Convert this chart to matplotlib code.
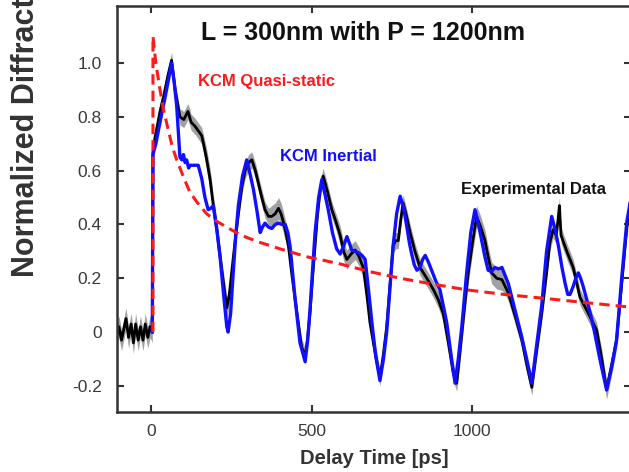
import numpy as np
import matplotlib
matplotlib.use("Agg")
import matplotlib.pyplot as plt

plt.rcParams['font.family'] = ['Liberation Sans', 'DejaVu Sans']

# experimental data (delay in ps, normalized intensity, error half-width)
exp_t = [-106, -100, -92, -85, -78, -70, -62, -55, -48, -40, -33, -25, -18, -10, -3, 4,
         6, 12, 20, 28, 40, 52, 64, 75, 90, 102, 115, 125, 137, 158, 172, 184, 194, 205,
         215, 226, 236, 244, 251, 262, 272, 283, 293, 304, 314, 325, 335, 345, 355, 366,
         376, 387, 397, 405, 412, 420, 428, 438, 449, 459, 469, 480, 488, 495, 503, 511,
         518, 526, 536, 550, 563, 576, 589, 600, 610, 623, 636, 648, 661, 672, 682, 697,
         713, 724, 734, 744, 754, 762, 770, 778, 785, 796, 807, 822, 838, 859, 880, 895,
         910, 926, 941, 952, 960, 968, 978, 988, 1001, 1014, 1027, 1040, 1050, 1061, 1077,
         1093, 1103, 1113, 1134, 1155, 1170, 1186, 1201, 1217, 1232, 1242, 1252, 1262, 1268,
         1272, 1277, 1295, 1315, 1336, 1362, 1388, 1404, 1419, 1435, 1450, 1466, 1482, 1495]
exp_y = [-0.01, 0.02, -0.03, 0.01, 0.05, -0.02, 0.03, -0.04, 0.03, -0.03, 0.02, -0.03,
         0.03, -0.02, 0.02, 0.0,
         0.67, 0.72, 0.77, 0.82, 0.88, 0.95, 1.01, 0.90, 0.80, 0.79, 0.82, 0.78, 0.765,
         0.73, 0.65, 0.567, 0.47, 0.38,
         0.28, 0.18, 0.09, 0.14, 0.22, 0.34, 0.44, 0.54, 0.60, 0.63, 0.64, 0.60, 0.55,
         0.50, 0.455, 0.43,
         0.43, 0.44, 0.46, 0.44, 0.41, 0.37, 0.32, 0.22, 0.12, 0.03, -0.055, -0.09,
         -0.02, 0.07, 0.20, 0.32,
         0.43, 0.52, 0.58, 0.52, 0.455, 0.41, 0.36, 0.30, 0.27, 0.29, 0.305, 0.28, 0.24,
         0.14, 0.035, -0.07,
         -0.17, -0.08, 0.02, 0.17, 0.32, 0.34, 0.34, 0.42, 0.48, 0.43, 0.37, 0.30, 0.24,
         0.20, 0.157, 0.12,
         0.07, -0.04, -0.15, -0.19, -0.10, -0.005, 0.11, 0.22, 0.33, 0.43, 0.39, 0.34,
         0.28, 0.22, 0.20,
         0.195, 0.17, 0.145, 0.06, -0.03, -0.12, -0.205, -0.07, 0.07, 0.22, 0.33, 0.38,
         0.36, 0.42,
         0.47, 0.36, 0.30, 0.24, 0.13, 0.07, 0.007, -0.10, -0.215, -0.12, -0.03, 0.18,
         0.39, 0.50]
exp_err = [0.04] * 16 + [0.03] * 14 + [0.04] * 8 + [0.03] * 12 + [0.04] * 6 \
    + [0.03] * 16 + [0.035] * 10 + [0.03] * 20 + [0.04] * 12 + [0.03] * 20 \
    + [0.035] * 7

# KCM inertial model
inr_t = [4, 6, 15, 28, 45, 64, 72, 80, 90, 96, 101, 106, 111, 117, 122, 135, 147, 158,
         168, 178, 186, 194, 205, 215, 226, 236, 240, 248, 256, 264, 272, 285, 298, 308,
         319, 330, 340, 347, 355, 366, 376, 387, 397, 408, 418, 426, 433, 441, 449, 464,
         480, 488, 495, 503, 511, 522, 532, 542, 552, 565, 578, 589, 600, 610, 618, 625,
         636, 646, 657, 667, 678, 688, 700, 713, 724, 734, 744, 754, 765, 776, 787, 797,
         805, 812, 820, 828, 838, 846, 854, 864, 874, 887, 900, 910, 921, 934, 947, 957,
         968, 983, 996, 1009, 1020, 1030, 1040, 1050, 1060, 1071, 1082, 1093, 1103, 1113,
         1134, 1155, 1170, 1186, 1201, 1217, 1232, 1248, 1259, 1269, 1280, 1290, 1298,
         1305, 1315, 1323, 1331, 1338, 1346, 1362, 1378, 1398, 1419, 1435, 1450, 1466,
         1482, 1495]
inr_y = [0.0, 0.66, 0.70, 0.78, 0.88, 1.0, 0.93, 0.84, 0.65, 0.64, 0.66, 0.63, 0.64, 0.61,
         0.62, 0.62, 0.62, 0.57,
         0.50, 0.455, 0.46, 0.47, 0.38, 0.28, 0.14, 0.02, 0.0, 0.07, 0.22, 0.36, 0.47,
         0.58, 0.64, 0.59,
         0.53, 0.45, 0.37, 0.39, 0.405, 0.39, 0.385, 0.40, 0.405, 0.40, 0.40, 0.37, 0.32,
         0.22, 0.12, -0.04,
         -0.11, -0.03, 0.08, 0.23, 0.37, 0.50, 0.567, 0.51, 0.455, 0.37, 0.31, 0.29,
         0.32, 0.355, 0.33, 0.305,
         0.30, 0.295, 0.285, 0.27, 0.15, 0.035, -0.09, -0.18, -0.10, 0.0, 0.16, 0.32,
         0.44, 0.505, 0.46, 0.39,
         0.33, 0.29, 0.25, 0.23, 0.24, 0.27, 0.285, 0.26, 0.23, 0.19, 0.157, 0.10, 0.035,
         -0.08, -0.19, -0.10,
         0.02, 0.22, 0.37, 0.455, 0.40, 0.34, 0.28, 0.23, 0.225, 0.24, 0.235, 0.24, 0.21,
         0.18,
         0.08, -0.02, -0.10, -0.19, -0.05, 0.10, 0.30, 0.43, 0.38, 0.32, 0.24, 0.18, 0.14,
         0.14, 0.17, 0.20, 0.22, 0.20, 0.17, 0.10, 0.02, -0.10, -0.215, -0.13, -0.03, 0.20,
         0.41, 0.50]

# KCM quasi-static model
qs_t = [6, 6, 15, 28, 40, 54, 66, 80, 100, 121, 145, 173, 200, 236, 280, 335, 400, 485,
        583, 680, 776, 880, 983, 1100, 1212, 1350, 1482, 1500]
qs_y = [0.0, 1.10, 1.00, 0.90, 0.82, 0.75, 0.69, 0.64, 0.58, 0.52, 0.48, 0.44, 0.415,
        0.39, 0.36, 0.335, 0.31, 0.28, 0.255, 0.225, 0.20, 0.178, 0.157, 0.14, 0.127,
        0.11, 0.094, 0.092]

yticks = [-0.2, 0, 0.2, 0.4, 0.6, 0.8, 1.0]
ytick_labels = ['-0.2', '0', '0.2', '0.4', '0.6', '0.8', '1.0']
xticks = [0, 500, 1000]

fig = plt.figure(figsize=(6.29, 4.72), dpi=100)
ax = fig.add_axes([117 / 629, 60 / 472, 514 / 629, 406 / 472])

exp_t = np.array(exp_t)
exp_y = np.array(exp_y)
exp_err = np.array(exp_err)
ax.fill_between(exp_t, exp_y - exp_err, exp_y + exp_err, color='#7a7a7a',
                alpha=0.7, lw=0, zorder=1)
ax.plot(exp_t, exp_y, color='black', lw=2.0, zorder=2)
ax.plot(inr_t, inr_y, color='#1010ff', lw=2.4, zorder=3)
ax.plot(qs_t, qs_y, color='#ff1a1a', lw=2.2, dashes=(3.4, 2.0), zorder=4)

ax.set_xlim(-106, 1495)
ax.set_ylim(-0.297, 1.212)
ax.set_xticks(xticks)
ax.set_xticklabels([str(v) for v in xticks])
ax.set_yticks(yticks)
ax.set_yticklabels(ytick_labels)

ax.tick_params(direction='in', length=5, width=1.5, color='#333333',
               top=True, right=True, labelsize=12.5, labelcolor='#3a3a3a')
ax.tick_params(axis='y', pad=11)
ax.tick_params(axis='x', pad=9)
for s in ax.spines.values():
    s.set_linewidth(1.8)
    s.set_color('#333333')

ax.text(0.479, 0.933, 'L = 300nm with P = 1200nm', transform=ax.transAxes,
        ha='center', va='center', fontsize=18, fontweight='bold', color='#111111')
ax.text(146, 0.933, 'KCM Quasi-static', color='#ff1a1a', fontsize=12,
        fontweight='bold', va='center', ha='left')
ax.text(402, 0.653, 'KCM Inertial', color='#1010ff', fontsize=12,
        fontweight='bold', va='center', ha='left')
ax.text(966, 0.53, 'Experimental Data', color='#111111', fontsize=12,
        fontweight='bold', va='center', ha='left')

ax.set_xlabel('Delay Time [ps]', fontsize=14.5, fontweight='bold', color='#333333',
              labelpad=7)
fig.text(26 / 629, 1 - 277 / 472, 'Normalized Diffraction Intensity', rotation=90,
         ha='center', va='bottom', fontsize=22, fontweight='bold', color='#333333')

fig.savefig('out.png', dpi=100)
